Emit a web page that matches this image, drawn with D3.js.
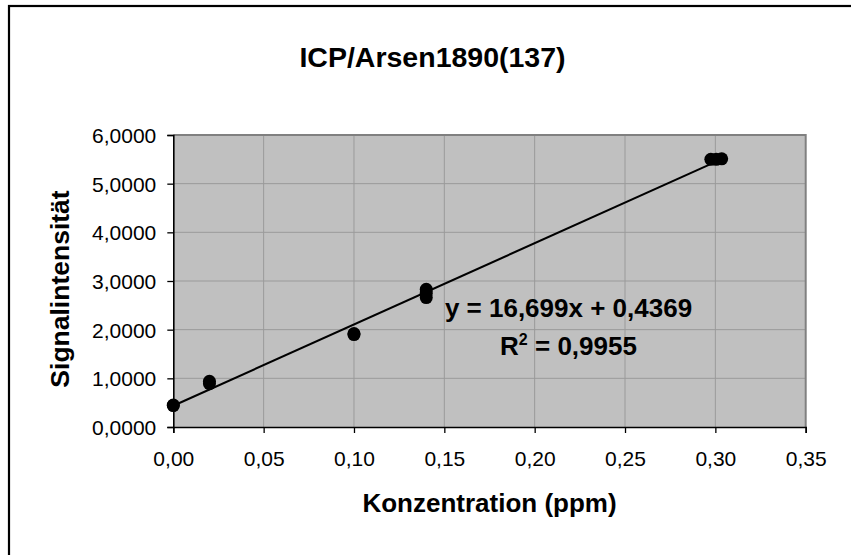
<!DOCTYPE html>
<html>
<head>
<meta charset="utf-8">
<script src="https://cdn.jsdelivr.net/npm/d3@7/dist/d3.min.js"></script>
<style>
  html, body { margin: 0; padding: 0; background: #ffffff; }
  svg { display: block; }
  text { font-family: "Liberation Sans", Arial, "DejaVu Sans", sans-serif; fill: #000; }
</style>
</head>
<body>
<script>
// ---- data ----
const title = "ICP/Arsen1890(137)";
const xLabel = "Konzentration (ppm)";
const yLabel = "Signalintensität";
const concentration = [0.0, 0.0, 0.02, 0.02, 0.10, 0.10, 0.14, 0.14, 0.14, 0.2975, 0.3005, 0.3035];
const signal        = [0.45, 0.44, 0.89, 0.94, 1.90, 1.92, 2.66, 2.75, 2.83, 5.50, 5.50, 5.51];
const trendSlope = 16.699;
const trendIntercept = 0.4369;
const trendEquation = "y = 16,699x + 0,4369";
const trendR2 = "0,9955";
const xTicks = [0, 0.05, 0.10, 0.15, 0.20, 0.25, 0.30, 0.35];
const yTicks = [0, 1, 2, 3, 4, 5, 6];

// ---- layout ----
const W = 851, H = 555;
const plot = { left: 173.3, right: 805.7, top: 135, bottom: 427 };

const de = d3.formatLocale({ decimal: ",", thousands: ".", grouping: [3], currency: ["", " €"] });
const fmtX = de.format(".2f");
const fmtY = de.format(".4f");

const svg = d3.select("body").append("svg").attr("width", W).attr("height", H);

// chart frame
svg.append("rect")
  .attr("x", 9).attr("y", 6).attr("width", 870).attr("height", 570)
  .attr("fill", "#ffffff").attr("stroke", "#000").attr("stroke-width", 2.2);

const x = d3.scaleLinear().domain([0, 0.35]).range([plot.left, plot.right]);
const y = d3.scaleLinear().domain([0, 6]).range([plot.bottom, plot.top]);

// plot background
svg.append("rect")
  .attr("x", plot.left).attr("y", plot.top)
  .attr("width", plot.right - plot.left).attr("height", plot.bottom - plot.top)
  .attr("fill", "#c0c0c0");

// gridlines
const grid = svg.append("g");
grid.selectAll("line.h").data(yTicks.filter(v => v > 0 && v < 6)).enter().append("line")
  .attr("x1", plot.left).attr("x2", plot.right)
  .attr("y1", d => y(d)).attr("y2", d => y(d))
  .attr("stroke", "#9a9a9a").attr("stroke-width", 1);
grid.selectAll("line.v").data(xTicks.filter(v => v > 0 && v < 0.35)).enter().append("line")
  .attr("y1", plot.top).attr("y2", plot.bottom)
  .attr("x1", d => x(d)).attr("x2", d => x(d))
  .attr("stroke", "#9a9a9a").attr("stroke-width", 1);

// top & right plot border (gray)
svg.append("path")
  .attr("d", `M${plot.left},${plot.top}H${plot.right}V${plot.bottom}`)
  .attr("fill", "none").attr("stroke", "#808080").attr("stroke-width", 2);

// axes
const xAxis = svg.append("g").attr("transform", `translate(0,${plot.bottom})`)
  .call(d3.axisBottom(x).tickValues(xTicks).tickFormat(fmtX).tickSize(6).tickPadding(4));
xAxis.select(".domain").attr("stroke", "#000").attr("stroke-width", 1.6);
xAxis.selectAll(".tick line").attr("stroke", "#000").attr("stroke-width", 1.3);
xAxis.selectAll(".tick text")
  .attr("y", 39).attr("dy", null)
  .style("font-size", "21px").style("font-family", '"Liberation Sans", Arial, sans-serif');

const yAxis = svg.append("g").attr("transform", `translate(${plot.left},0)`)
  .call(d3.axisLeft(y).tickValues(yTicks).tickFormat(fmtY).tickSize(6).tickPadding(11));
yAxis.select(".domain").attr("stroke", "#000").attr("stroke-width", 1.6);
yAxis.selectAll(".tick line").attr("stroke", "#000").attr("stroke-width", 1.3);
yAxis.selectAll(".tick text")
  .attr("dy", "0.36em")
  .style("font-size", "21px").style("font-family", '"Liberation Sans", Arial, sans-serif');

// trendline
const xMax = d3.max(concentration);
svg.append("line")
  .attr("x1", x(0)).attr("y1", y(trendIntercept))
  .attr("x2", x(xMax)).attr("y2", y(trendIntercept + trendSlope * xMax))
  .attr("stroke", "#000").attr("stroke-width", 2);

// points
svg.append("g").selectAll("circle")
  .data(concentration.map((c, i) => [c, signal[i]]))
  .enter().append("circle")
  .attr("cx", d => x(d[0])).attr("cy", d => y(d[1]))
  .attr("r", 6.5).attr("fill", "#000");

// trend equation
svg.append("text")
  .attr("x", 568.5).attr("y", 317).attr("text-anchor", "middle")
  .style("font-size", "26px").style("font-weight", "bold")
  .text(trendEquation);
const r2 = svg.append("text")
  .attr("x", 568.5).attr("y", 355).attr("text-anchor", "middle")
  .style("font-size", "26px").style("font-weight", "bold");
r2.append("tspan").text("R");
r2.append("tspan").attr("dy", -10).style("font-size", "16px").text("2");
r2.append("tspan").attr("dy", 10).text(" = " + trendR2);

// title
svg.append("text")
  .attr("x", 432.5).attr("y", 66.5).attr("text-anchor", "middle")
  .style("font-size", "28.5px").style("font-weight", "bold")
  .text(title);

// axis titles
svg.append("text")
  .attr("x", 489.5).attr("y", 511.5).attr("text-anchor", "middle")
  .style("font-size", "26px").style("font-weight", "bold")
  .text(xLabel);

svg.append("text")
  .attr("transform", `translate(69,289) rotate(-90)`)
  .attr("text-anchor", "middle")
  .style("font-size", "26.5px").style("font-weight", "bold")
  .text(yLabel);
</script>
</body>
</html>
